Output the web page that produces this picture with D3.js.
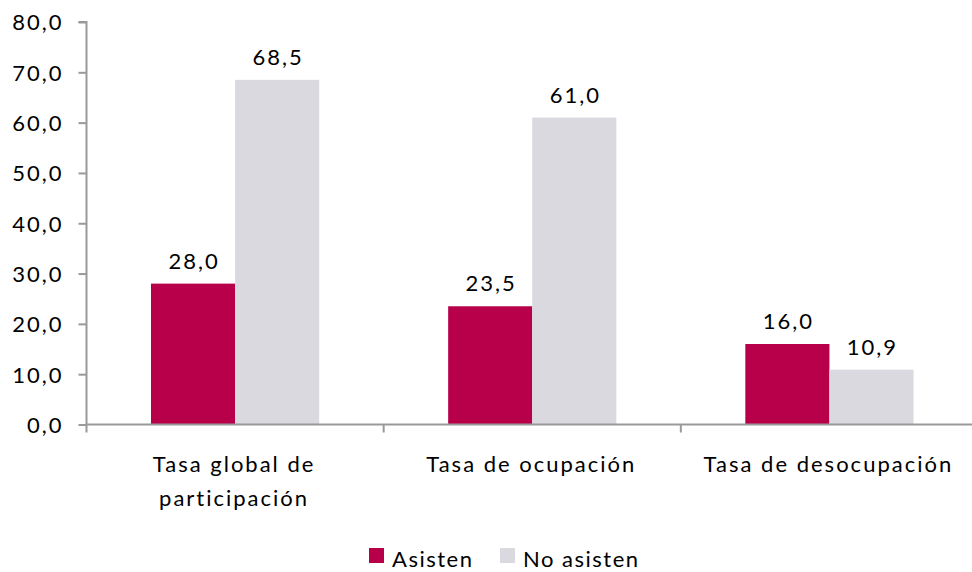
<!DOCTYPE html>
<html><head><meta charset="utf-8">
<script src="https://cdn.jsdelivr.net/npm/d3@7"></script>
<style>body{margin:0;background:#fff}svg{display:block}text{font-family:Lato,"Open Sans",sans-serif;fill:#000}</style>
</head><body>
<svg id="c" width="972" height="572"></svg>
<script>
const categories = [["Tasa global de","participación"],["Tasa de ocupación"],["Tasa de desocupación"]];
const seriesNames = ["Asisten","No asisten"];
const asisten = [28.0, 23.5, 16.0];
const noAsisten = [68.5, 61.0, 10.9];
const yTicks = [0,10,20,30,40,50,60,70,80];
const colors = ["#B8004A","#D9D9DF"];

(function(){
const svg = d3.select("#c");
const FS = 22, LS = 2;
const mLeft = 86.5, mRight = 978, mTop = 22, mBottom = 424.5;
const fmt = v => v.toFixed(1).replace(".", ",");
const y = d3.scaleLinear().domain([0,80]).range([mBottom, mTop]);
const x0 = d3.scaleBand().domain(d3.range(categories.length)).range([mLeft, mRight]).padding(0);
const bw = x0.bandwidth();
const x1 = d3.scaleBand().domain(seriesNames).range([bw*0.217, bw*0.783]).padding(0);
const data = [asisten, noAsisten];

seriesNames.forEach((s, si) => {
  svg.append("g").selectAll("rect").data(data[si]).join("rect")
    .attr("x", (d,i) => x0(i) + x1(s))
    .attr("y", d => y(d))
    .attr("width", x1.bandwidth())
    .attr("height", d => mBottom - y(d))
    .attr("fill", colors[si]);
  svg.append("g").selectAll("text").data(data[si]).join("text")
    .attr("x", (d,i) => x0(i) + x1(s) + x1.bandwidth()/2 + LS/2)
    .attr("y", d => y(d) - 15)
    .attr("text-anchor","middle")
    .attr("font-size", FS)
    .attr("letter-spacing", LS)
    .text(fmt);
});

const ya = svg.append("g").attr("transform", `translate(${mLeft},0)`)
  .call(d3.axisLeft(y).tickValues(yTicks).tickSize(8).tickPadding(15).tickFormat(fmt));
ya.select(".domain").attr("stroke","#999").attr("stroke-width",2).attr("d", `M-8,${mTop}H0V${mBottom}`);
ya.selectAll(".tick line").attr("stroke","#999").attr("stroke-width",2);
ya.selectAll(".tick text").attr("font-size",FS).attr("letter-spacing",LS).attr("font-family","Lato").attr("fill","#000").attr("dy","0.36em");

const xa = svg.append("g").attr("transform", `translate(0,${mBottom})`);
xa.append("line").attr("x1", mLeft).attr("x2", 972).attr("y1",0).attr("y2",0).attr("stroke","#999").attr("stroke-width",2);
xa.selectAll("line.t").data(d3.range(categories.length+1)).join("line").attr("class","t")
  .attr("x1", i => mLeft + i*bw).attr("x2", i => mLeft + i*bw).attr("y1",0).attr("y2",8)
  .attr("stroke","#999").attr("stroke-width",2);
categories.forEach((lines, i) => {
  const t = xa.append("text").attr("text-anchor","middle").attr("font-size",FS).attr("letter-spacing",LS);
  lines.forEach((l, j) => t.append("tspan").attr("x", x0(i) + bw/2 - 1).attr("y", 47 + j*34).text(l));
});

const legX = [369, 500];
seriesNames.forEach((s, i) => {
  svg.append("rect").attr("x", legX[i]).attr("y", 548).attr("width",15).attr("height",15).attr("fill", colors[i]);
  svg.append("text").attr("x", legX[i] + 23).attr("y", 567).attr("font-size",FS).attr("letter-spacing",LS - 0.5).text(s);
});
})();
</script>
</body></html>
